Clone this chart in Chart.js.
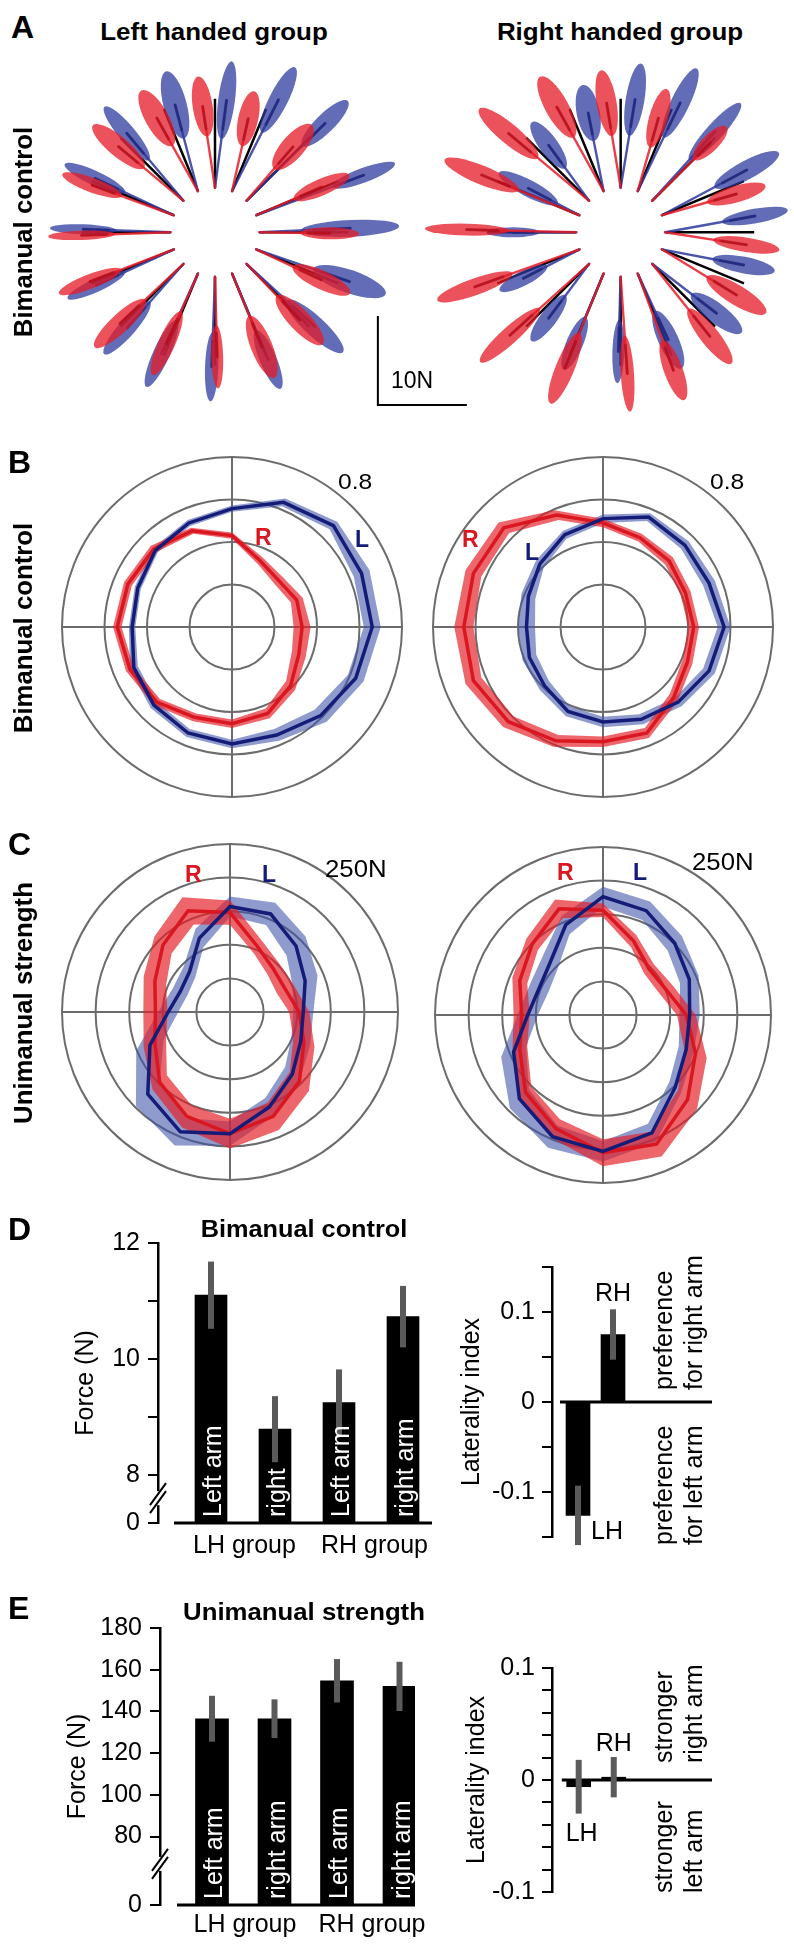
<!DOCTYPE html>
<html><head><meta charset="utf-8">
<script src="https://cdn.jsdelivr.net/npm/chart.js@4.4.1/dist/chart.umd.min.js"></script>
<style>
html,body{margin:0;padding:0;background:#fff;}
#fig{position:relative;width:794px;height:1944px;overflow:hidden;background:#fff;font-family:"Liberation Sans",Arial,Helvetica,sans-serif;}
#fig canvas{position:absolute;}
.tx{position:absolute;white-space:nowrap;line-height:1;color:#000;}
</style></head>
<body><div id="fig">
<canvas id="cA" width="794" height="385" style="left:0px;top:45px"></canvas>
<canvas id="cBL" width="344" height="344" style="left:60px;top:455px"></canvas>
<canvas id="cBR" width="344" height="344" style="left:431px;top:455px"></canvas>
<canvas id="cCL" width="340" height="340" style="left:60px;top:842px"></canvas>
<canvas id="cCR" width="340" height="340" style="left:433px;top:845px"></canvas>
<canvas id="cDL" width="450" height="380" style="left:0px;top:1200px"></canvas>
<canvas id="cDR" width="374" height="380" style="left:420px;top:1200px"></canvas>
<canvas id="cEL" width="450" height="364" style="left:0px;top:1580px"></canvas>
<canvas id="cER" width="374" height="364" style="left:420px;top:1580px"></canvas>
</div>
<script>
// ================= DATA =================
// Panel A: force directions (deg, counter-clockwise from east)
const dirAngles = [0,22.5,45,67.5,90,112.5,135,157.5,180,202.5,225,247.5,270,292.5,315,337.5];
const targetForce = 10;   // N (black target lines)
const scaleBarN = 10;     // N
// mean force end-point radius (N), deviation from target direction (deg), ellipse half-length / half-width (N)
const aLH_L_r   = [15.2,17.9,17.4,16.5,14.9,15.0,14.9,14.8,14.8,14.6,14.6,14.9,15.1,15.5,15.4,16.1];
const aLH_L_dev = [1.7,-1.5,-0.3,-3.1,-5,-5.1,-3.3,-1.7,-1.3,1.5,2.4,-1.3,-1.4,0.2,1.7,2.4];
const aLH_L_len = [5.5,3.75,3.6,4.1,4.4,3.9,3.9,3.75,3.75,3.56,3.9,4.1,3.9,3.56,4.3,4.3];
const aLH_L_wid = [0.94,0.82,1.05,1.05,0.94,1.3,0.94,0.82,0.56,0.75,0.94,0.94,0.75,0.94,1.12,1.3];
const aLH_R_r   = [12.9,13.0,13.0,13.3,14.2,14.4,14.5,14.8,15.0,15.1,14.8,13.6,14.0,13.9,13.7,13.1];
const aLH_R_dev = [-0.5,0.5,2.6,6.2,5.6,4.5,3.4,1.5,1.3,-1,-1.2,-1,1,-0.3,-1,-1.6];
const aLH_R_len = [3.3,3.4,3.26,3.15,3.4,3.56,3.75,3.56,3.75,3.75,3.9,3.9,3.56,3.75,3.75,3.56];
const aLH_R_wid = [0.67,0.94,1.3,1.12,1.12,1.3,1.12,0.82,0.52,0.82,1.05,0.94,0.67,1.2,1.2,1.05];
const aRH_L_r   = [15.2,15.8,15.5,16.0,15.0,13.9,12.7,11.5,12.1,12.1,12.6,13.5,13.4,13.2,14.1,14.3];
const aRH_L_dev = [6.9,3.8,1.9,-2.2,-6.2,-7.3,-5.4,-3,0,2.8,5,0,-1.1,1.4,4.8,7.6];
const aRH_L_len = [3.75,4.1,4.3,4.3,4.1,3.2,3.2,3.75,3.0,3.0,3.2,3.2,3.56,3.56,3.56,3.56];
const aRH_L_wid = [0.82,1.05,0.94,1.05,1.05,1.3,1.05,0.94,0.56,0.82,0.94,0.94,0.67,1.12,1.12,0.94];
const aRH_R_r   = [14.2,13.7,14.2,13.5,14.6,15.8,16.8,16.9,17.3,17.5,17.0,16.5,15.9,16.6,15.4,14.8];
const aRH_R_dev = [-5.7,-4.2,-0.1,4.2,6.2,4.5,3.6,0.1,-1,-2,-2.1,0.2,2.7,-1.6,-4.4,-5.9];
const aRH_R_len = [3.75,3.4,2.6,3.4,3.75,3.9,4.3,4.5,4.7,4.5,4.5,4.3,4.3,3.56,3.9,3.9];
const aRH_R_wid = [0.82,0.94,0.94,1.05,1.12,1.3,1.12,1.05,0.67,0.94,0.94,1.05,0.75,1.05,1.05,1.12];

// Panels B & C: directions clockwise from North (radar order)
const DIRS = ['N','NNE','NE','ENE','E','ESE','SE','SSE','S','SSW','SW','WSW','W','WNW','NW','NNW'];
// B: bimanual control (normalised), mean and s.e.
const bLH_R_mean = [0.43,0.34,0.31,0.33,0.33,0.34,0.39,0.44,0.455,0.46,0.50,0.52,0.54,0.53,0.52,0.49];
const bLH_R_se   = [0.015,0.02,0.025,0.03,0.04,0.035,0.03,0.025,0.02,0.02,0.02,0.02,0.02,0.02,0.02,0.015];
const bLH_L_mean = [0.557,0.635,0.675,0.66,0.66,0.63,0.59,0.55,0.55,0.54,0.52,0.50,0.47,0.48,0.51,0.53];
const bLH_L_se   = [0.015,0.02,0.025,0.04,0.04,0.04,0.04,0.03,0.02,0.02,0.02,0.02,0.015,0.015,0.015,0.015];
const bRH_R_mean = [0.49,0.455,0.44,0.42,0.427,0.43,0.47,0.54,0.54,0.58,0.63,0.66,0.655,0.66,0.66,0.57];
const bRH_R_se   = [0.02,0.02,0.025,0.025,0.025,0.025,0.025,0.025,0.025,0.03,0.035,0.04,0.045,0.04,0.035,0.025];
const bRH_L_mean = [0.51,0.56,0.545,0.54,0.57,0.54,0.50,0.47,0.447,0.43,0.39,0.375,0.36,0.38,0.42,0.47];
const bRH_L_se   = [0.02,0.02,0.025,0.03,0.03,0.03,0.025,0.025,0.025,0.025,0.03,0.035,0.04,0.035,0.025,0.02];
// C: unimanual strength (N)
const cLH_R_mean = [148,106,91,89,103,119,146,168,181,168,148,121,111,121,141,163];
const cLH_R_se   = [18,12,12,14,15,17,20,22,22,18,15,18,18,18,18,22];
const cLH_L_mean = [157,158,139,121,109,114,131,153,181,193,173,129,92,80,85,119];
const cLH_L_se   = [15,18,20,20,15,15,15,15,18,22,25,22,15,12,12,15];
const cRH_R_mean = [156,119,97,101,124,149,178,208,205,183,163,134,121,134,149,171];
const cRH_R_se   = [10,10,10,12,14,18,20,20,20,15,12,12,12,12,12,15];
const cRH_L_mean = [176,168,151,139,129,134,152,190,203,196,176,144,112,103,111,145];
const cRH_L_se   = [15,15,15,15,15,12,12,15,15,18,20,20,15,15,15,15];

// Panels D & E: bars
const armLabelsD = ['Left arm','right','Left arm','right arm'];
const armLabelsE = ['Left arm','right arm','Left arm','right arm'];
const groupLabels = ['LH group','RH group'];
const dForce    = [11.10, 8.79, 9.25, 10.73];
const dForceErr = [0.58, 0.57, 0.57, 0.53];
const dYTicks   = [8, 9, 10, 11, 12];
const dYLabeled = [8, 10, 12];
const eForce    = [136.5, 136.5, 154.7, 152.0];
const eForceErr = [11.0, 9.3, 10.4, 11.8];
const eYTicks   = [80, 100, 120, 140, 160, 180];
const latLabels = ['LH','RH'];
const dLat      = [-0.126, 0.075];
const dLatErr   = [0.033, 0.028];
const eLat      = [-0.006, 0.0025];
const eLatErr   = [0.024, 0.018];

// ================= STYLE =================
Chart.defaults.font.family = '"Liberation Sans", Arial, Helvetica, sans-serif';
Chart.defaults.color = '#000';
const RED = '#DA1720', NAVY = '#141C78', GRID = '#6c6c6c';
const RED_BAND = 'rgba(228,30,38,0.68)', BLUE_BAND = 'rgba(62,82,168,0.58)';
const AC = {
  L: {fill:'rgba(44,56,156,0.74)', tail:'rgba(44,56,156,0.85)', core:'rgba(15,20,90,0.45)'},
  R: {fill:'rgba(230,28,40,0.76)', tail:'rgba(230,28,40,0.85)', core:'rgba(130,0,15,0.42)'}
};

// ================= TEXT HELPERS =================
const FIG = document.getElementById('fig');
function txt(s, o){
  const d = document.createElement('div'); d.className = 'tx'; d.textContent = s;
  const fs = o.size; d.style.fontSize = fs + 'px';
  if (o.bold) d.style.fontWeight = 'bold';
  if (o.color) d.style.color = o.color;
  const sx = o.sx || 1;
  if (o.rot) {
    d.style.left = o.x + 'px'; d.style.top = o.y + 'px';
    d.style.transform = 'translate(-50%,-50%) rotate(-90deg) scaleX(' + sx + ')';
  } else {
    d.style.top = (o.base - 0.8465 * fs) + 'px';
    d.style.left = o.x + 'px'; d.style.transformOrigin = '0 0';
    d.style.transform = o.align === 'center' ? 'scaleX(' + sx + ') translateX(-50%)' : 'scaleX(' + sx + ')';
  }
  FIG.appendChild(d);
}
function rotBlock(lines, L, T, fs, lh){
  const d = document.createElement('div'); d.className = 'tx';
  d.innerHTML = lines.join('<br>');
  d.style.fontSize = fs + 'px'; d.style.lineHeight = lh + 'px';
  d.style.left = L + 'px'; d.style.top = T + 'px';
  d.style.transformOrigin = '0 0'; d.style.transform = 'rotate(-90deg)';
  FIG.appendChild(d);
}

// ================= PANEL A =================
const innerR = 5;                 // N: radial start of force vectors
const groupCX = [0, 45.58];       // N: horizontal placement of the two groups
function polar(cx, r, deg){ const t = deg * Math.PI / 180; return {x: cx + r * Math.cos(t), y: r * Math.sin(t)}; }
const aSets = [
  {g:0, col:'L', r:aLH_L_r, d:aLH_L_dev, a:aLH_L_len, b:aLH_L_wid},
  {g:0, col:'R', r:aLH_R_r, d:aLH_R_dev, a:aLH_R_len, b:aLH_R_wid},
  {g:1, col:'L', r:aRH_L_r, d:aRH_L_dev, a:aRH_L_len, b:aRH_L_wid},
  {g:1, col:'R', r:aRH_R_r, d:aRH_R_dev, a:aRH_R_len, b:aRH_R_wid}
];
const ellDatasets = aSets.map(s => ({
  label: (s.g ? 'RH ' : 'LH ') + s.col,
  data: dirAngles.map((t, k) => polar(groupCX[s.g], s.r[k], t + s.d[k])),
  pointRadius: 0, pointHoverRadius: 0,
  ell: {cx: groupCX[s.g], col: s.col, a: s.a, b: s.b}
}));
const targetPts = [];
groupCX.forEach(cx => dirAngles.forEach(t => {
  targetPts.push(polar(cx, innerR, t), polar(cx, innerR + targetForce, t), {x: NaN, y: NaN});
}));
const barAnchor = {x: 18.3, y: -19.4};
const scaleBarDs = {label:'10N', data:[{x:barAnchor.x, y:barAnchor.y + scaleBarN}, {x:barAnchor.x, y:barAnchor.y}, {x:barAnchor.x + scaleBarN, y:barAnchor.y}],
  showLine:true, borderColor:'#000', borderWidth:2, pointRadius:0, fill:false};
const targetDs = {label:'target', data:targetPts, showLine:true, spanGaps:false, borderColor:'#000', borderWidth:2.5, pointRadius:0, fill:false};

const ellipsePlugin = {
  id: 'forceEllipses',
  afterDatasetsDraw(chart){
    const ctx = chart.ctx, xs = chart.scales.x, ys = chart.scales.y;
    const ppn = Math.abs(xs.getPixelForValue(1) - xs.getPixelForValue(0));
    ['L','R'].forEach(col => chart.data.datasets.forEach((ds, di) => {
      if (!ds.ell || ds.ell.col !== col) return;
      const st = AC[col];
      chart.getDatasetMeta(di).data.forEach((el, k) => {
        const s = polar(ds.ell.cx, innerR, dirAngles[k]);
        const sx = xs.getPixelForValue(s.x), sy = ys.getPixelForValue(s.y);
        const ex = el.x, ey = el.y, ang = Math.atan2(ey - sy, ex - sx);
        ctx.save(); ctx.lineCap = 'round';
        ctx.strokeStyle = st.tail; ctx.lineWidth = 2.4;
        ctx.beginPath(); ctx.moveTo(sx, sy); ctx.lineTo(ex, ey); ctx.stroke();
        ctx.fillStyle = st.fill;
        ctx.beginPath(); ctx.ellipse(ex, ey, ds.ell.a[k] * ppn, ds.ell.b[k] * ppn, ang, 0, Math.PI * 2); ctx.fill();
        const L = ds.ell.a[k] * ppn * 0.75;
        ctx.strokeStyle = st.core; ctx.lineWidth = 3;
        ctx.beginPath(); ctx.moveTo(ex, ey); ctx.lineTo(ex - Math.cos(ang) * L, ey - Math.sin(ang) * L); ctx.stroke();
        ctx.restore();
      });
    }));
  }
};
new Chart(document.getElementById('cA'), {
  type: 'scatter',
  data: {datasets: [...ellDatasets, scaleBarDs, targetDs]},
  options: {responsive:false, animation:false, events:[], layout:{padding:0},
    plugins:{legend:{display:false}, tooltip:{enabled:false}},
    scales:{x:{type:'linear', display:false, min:-24.157, max:65.056},
            y:{type:'linear', display:false, min:-22.213, max:21.045}}},
  plugins: [ellipsePlugin]
});

// ================= PANELS B & C (radar) =================
function radar(id, Rm, Rs, Lm, Ls, max, step){
  const hi = (m, s) => m.map((v, i) => v + s[i]);
  const lo = (m, s) => m.map((v, i) => v - s[i]);
  new Chart(document.getElementById(id), {
    type: 'radar',
    data: {labels: DIRS, datasets: [
      {label:'L', data:Lm, borderColor:NAVY, borderWidth:3.5, pointRadius:0, fill:false},
      {label:'R', data:Rm, borderColor:RED, borderWidth:3.5, pointRadius:0, fill:false},
      {label:'R+se', data:hi(Rm, Rs), borderWidth:0, borderColor:'rgba(0,0,0,0)', pointRadius:0, fill:3, backgroundColor:RED_BAND},
      {label:'R-se', data:lo(Rm, Rs), borderWidth:0, borderColor:'rgba(0,0,0,0)', pointRadius:0, fill:false},
      {label:'L+se', data:hi(Lm, Ls), borderWidth:0, borderColor:'rgba(0,0,0,0)', pointRadius:0, fill:5, backgroundColor:BLUE_BAND},
      {label:'L-se', data:lo(Lm, Ls), borderWidth:0, borderColor:'rgba(0,0,0,0)', pointRadius:0, fill:false}
    ]},
    options: {responsive:false, animation:false, events:[], layout:{padding:2},
      elements:{line:{tension:0}},
      plugins:{legend:{display:false}, tooltip:{enabled:false}},
      scales:{r:{min:0, max:max, beginAtZero:true,
        ticks:{display:false, stepSize:step},
        pointLabels:{display:false},
        grid:{circular:true, color:GRID, lineWidth:2},
        angleLines:{display:true, color:GRID, lineWidth:(c) => (c.index % 4 === 0 ? 2 : 0)}}}}
  });
}
radar('cBL', bLH_R_mean, bLH_R_se, bLH_L_mean, bLH_L_se, 0.8, 0.2);
radar('cBR', bRH_R_mean, bRH_R_se, bRH_L_mean, bRH_L_se, 0.8, 0.2);
radar('cCL', cLH_R_mean, cLH_R_se, cLH_L_mean, cLH_L_se, 250, 50);
radar('cCR', cRH_R_mean, cRH_R_se, cRH_L_mean, cRH_L_se, 250, 50);

// ================= PANELS D & E (bars) =================
const barDecor = {
  id: 'barDecor',
  afterDatasetsDraw(chart, args, o){
    const ctx = chart.ctx, xs = chart.scales.x, ys = chart.scales.y, ca = chart.chartArea;
    const meta = chart.getDatasetMeta(0), ds = chart.data.datasets[0];
    ctx.save();
    if (o.baseline) {
      const y = ys.getPixelForValue(o.baseline.value);
      ctx.strokeStyle = '#000'; ctx.lineWidth = 3;
      ctx.beginPath(); ctx.moveTo(xs.getPixelForValue(o.baseline.from), y); ctx.lineTo(ca.right, y); ctx.stroke();
    }
    ctx.strokeStyle = '#5a5a5a'; ctx.lineWidth = o.errWidth || 6; ctx.lineCap = 'butt';
    meta.data.forEach((el, i) => {
      const m = ds.data[i].y, e = o.err[i];
      ctx.beginPath(); ctx.moveTo(el.x, ys.getPixelForValue(m + e)); ctx.lineTo(el.x, ys.getPixelForValue(m - e)); ctx.stroke();
    });
    if (o.barText) {
      ctx.fillStyle = '#fff'; ctx.font = '25px ' + Chart.defaults.font.family;
      ctx.textAlign = 'left'; ctx.textBaseline = 'alphabetic';
      meta.data.forEach((el, i) => {
        ctx.save(); ctx.translate(el.x + 10, el.base - 5); ctx.rotate(-Math.PI / 2);
        ctx.fillText(o.barText[i], 0, 0); ctx.restore();
      });
    }
    ctx.fillStyle = '#000'; ctx.font = '25px ' + Chart.defaults.font.family; ctx.textBaseline = 'alphabetic';
    if (o.groups) {
      ctx.textAlign = 'left';
      o.groups.forEach((g, gi) => {
        const el = meta.data[gi * 2];
        ctx.fillText(g, el.x - el.width / 2 - 2, ca.bottom + o.groupDy);
      });
    }
    if (o.tags) {
      o.tags.forEach(t => {
        const el = meta.data[t.bar], m = ds.data[t.bar].y, e = o.err[t.bar];
        const yRef = ys.getPixelForValue(t.ref === 'top' ? m + e : m - e);
        ctx.textAlign = t.align; ctx.fillText(t.text, el.x + t.dx, yRef + t.dy);
      });
    }
    if (o.breakAt !== undefined) {
      const yb = ys.getPixelForValue(o.breakAt), x = ca.left;
      ctx.fillStyle = '#fff'; ctx.fillRect(x - 3, yb - 7, 6, 14);
      ctx.strokeStyle = '#000'; ctx.lineWidth = 2;
      [-4, 4].forEach(d => { ctx.beginPath(); ctx.moveTo(x - 8, yb + 11 + d); ctx.lineTo(x + 8, yb - 11 + d); ctx.stroke(); });
    }
    ctx.restore();
  }
};

function forceChart(id, vals, errs, zeroPos, ticks, labeled, xr, pad, yWidth, titlePad, bw, barText, breakAt, baseFrom, groupDy){
  const yMax = ticks[ticks.length - 1];
  new Chart(document.getElementById(id), {
    type: 'bar',
    data: {datasets: [{label:'Force', data: vals.map((v, i) => ({x: i + 1, y: v})), backgroundColor:'#000', borderWidth:0, barThickness:bw, base:zeroPos}]},
    options: {responsive:false, animation:false, events:[], layout:{padding:pad},
      plugins:{legend:{display:false}, tooltip:{enabled:false},
        barDecor:{err:errs, barText:barText, groups:groupLabels, groupDy:groupDy, breakAt:breakAt, baseline:{value:zeroPos, from:baseFrom}}},
      scales:{
        x:{type:'linear', display:false, offset:false, grid:{offset:false}, min:xr[0], max:xr[1]},
        y:{min:zeroPos, max:yMax,
          afterBuildTicks: (s) => { s.ticks = [zeroPos, ...ticks].map(v => ({value: v})); },
          afterFit: (s) => { s.width = yWidth; },
          ticks:{autoSkip:false, padding:8, font:{size:25}, color:'#000',
            callback: (v) => (v === zeroPos ? '0' : (labeled.includes(v) ? String(v) : ''))},
          grid:{drawOnChartArea:false, drawTicks:true, tickLength:10, color:'#000', lineWidth:2},
          border:{display:true, color:'#000', width:2.5},
          title:{display:true, text:'Force (N)', font:{size:25}, color:'#000', padding:{top:titlePad, bottom:0}}}
      }},
    plugins: [barDecor]
  });
}
forceChart('cDL', dForce, dForceErr, 7.172, dYTicks, dYLabeled, [0.172, 4.453], {top:43, bottom:57, left:0, right:18}, 158, 71, 32, armLabelsD, 7.6, 0.422, 30);
forceChart('cEL', eForce, eForceErr, 47.2, eYTicks, eYTicks, [0.168, 4.248], {top:48, bottom:39, left:0, right:35}, 160, 63, 33, armLabelsE, 66.9, 0.44, 27);

function latChart(id, vals, errs, lim, step, xr, pad, titlePad, tags, zeroFrom){
  new Chart(document.getElementById(id), {
    type: 'bar',
    data: {datasets: [{label:'Laterality', data: vals.map((v, i) => ({x: i + 1, y: v})), backgroundColor:'#000', borderWidth:0, barThickness:24}]},
    options: {responsive:false, animation:false, events:[], layout:{padding:pad},
      plugins:{legend:{display:false}, tooltip:{enabled:false},
        barDecor:{err:errs, tags:tags, baseline:{value:0, from:zeroFrom}}},
      scales:{
        x:{type:'linear', display:false, offset:false, grid:{offset:false}, min:xr[0], max:xr[1]},
        y:{min:-lim, max:lim,
          afterFit: (s) => { s.width = 132; },
          ticks:{stepSize:step, autoSkip:false, padding:7, font:{size:25}, color:'#000',
            callback: (v) => (Math.abs(v - 0.1) < 1e-6 ? '0.1' : Math.abs(v) < 1e-6 ? '0' : Math.abs(v + 0.1) < 1e-6 ? '-0.1' : '')},
          grid:{drawOnChartArea:false, drawTicks:true, tickLength:10, color:'#000', lineWidth:2},
          border:{display:true, color:'#000', width:2.5},
          title:{display:true, text:'Laterality index', font:{size:25}, color:'#000', padding:{top:titlePad, bottom:0}}}
      }},
    plugins: [barDecor]
  });
}
latChart('cDR', dLat, dLatErr, 0.15, 0.05, [0.257, 4.829], {top:67, bottom:43, left:0, right:82}, 37,
  [{text:latLabels[1], bar:1, ref:'top', dx:0, dy:-8, align:'center'}, {text:latLabels[0], bar:0, ref:'bottom', dx:13, dy:-6, align:'left'}], 0.486);
latChart('cER', eLat, eLatErr, 0.1, 0.02, [0.239, 4.802], {top:88, bottom:52, left:0, right:82}, 42,
  [{text:latLabels[1], bar:1, ref:'top', dx:0, dy:-6, align:'center'}, {text:latLabels[0], bar:0, ref:'bottom', dx:3, dy:27, align:'center'}], 0.52);

// ================= TEXT =================
txt('A', {x:11, base:38, size:32, bold:true});
txt('Left handed group', {x:214, base:40, size:24, bold:true, sx:1.08, align:'center'});
txt('Right handed group', {x:620, base:40, size:24, bold:true, sx:1.08, align:'center'});
txt('Bimanual control', {rot:true, x:23, y:232, size:25, bold:true, sx:1.03});
txt('10N', {x:391, base:388, size:23});
txt('B', {x:8, base:473, size:32, bold:true});
txt('Bimanual control', {rot:true, x:23, y:628, size:25, bold:true, sx:1.03});
txt('0.8', {x:338, base:490, size:22, sx:1.12});
txt('0.8', {x:710, base:490, size:22, sx:1.12});
txt('R', {x:255, base:545, size:23, bold:true, color:RED});
txt('L', {x:355, base:547, size:23, bold:true, color:NAVY});
txt('R', {x:462, base:547, size:23, bold:true, color:RED});
txt('L', {x:525, base:560, size:23, bold:true, color:NAVY});
txt('C', {x:8, base:855, size:32, bold:true});
txt('Unimanual strength', {rot:true, x:23, y:1003, size:25, bold:true, sx:1.03});
txt('250N', {x:325, base:877, size:23, sx:1.12});
txt('250N', {x:692, base:870, size:23, sx:1.12});
txt('R', {x:185, base:882, size:23, bold:true, color:RED});
txt('L', {x:262, base:882, size:23, bold:true, color:NAVY});
txt('R', {x:557, base:880, size:23, bold:true, color:RED});
txt('L', {x:633, base:880, size:23, bold:true, color:NAVY});
txt('D', {x:8, base:1240, size:32, bold:true});
txt('Bimanual control', {x:304, base:1237, size:23, bold:true, sx:1.1, align:'center'});
rotBlock(['preference', 'for right arm'], 648, 1390, 25, 30);
rotBlock(['preference', 'for left arm'], 648, 1545, 25, 30);
txt('E', {x:8, base:1619, size:32, bold:true});
txt('Unimanual strength', {x:304, base:1620, size:23, bold:true, sx:1.12, align:'center'});
rotBlock(['stronger', 'right arm'], 648, 1763, 25, 30);
rotBlock(['stronger', 'left arm'], 648, 1893, 25, 30);
</script></body></html>
